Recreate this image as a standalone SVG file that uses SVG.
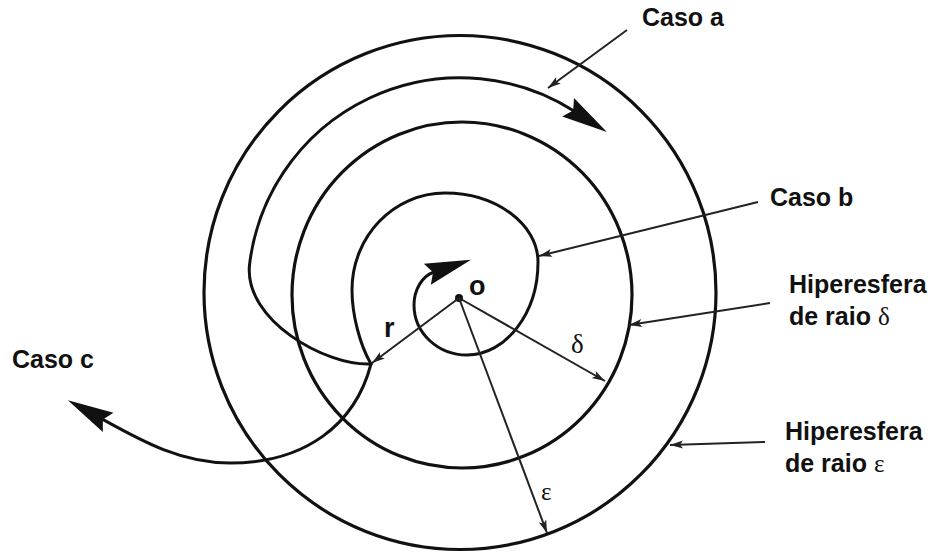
<svg xmlns="http://www.w3.org/2000/svg" width="933" height="553" viewBox="0 0 933 553">
<style>
.ring{fill:none;stroke:#111;stroke-width:3.2}
.traj{fill:none;stroke:#111;stroke-width:3;stroke-linecap:round}
.ptr{fill:none;stroke:#222;stroke-width:2}
.lbl{font-family:"Liberation Sans",Arial,sans-serif;font-weight:bold;font-size:25px;fill:#111}
.greek{font-family:"Liberation Serif","Times New Roman",serif;font-weight:normal;fill:#111}
.sym{font-family:"Liberation Sans",Arial,sans-serif;font-weight:bold;font-size:27px;fill:#111}
</style>
<defs>
<marker id="big" markerUnits="userSpaceOnUse" markerWidth="50" markerHeight="26" refX="7" refY="11" orient="auto" overflow="visible">
<path d="M0,0 L46,11 L0,22 L6,11 Z" fill="#111"/>
</marker>
<marker id="small" markerUnits="userSpaceOnUse" markerWidth="14" markerHeight="10" refX="13" refY="4" orient="auto" overflow="visible">
<path d="M0,0 L13,4 L0,8 L3,4 Z" fill="#222"/>
</marker>
</defs>
<rect width="933" height="553" fill="#fff"/>

<g id="hiperesfera-epsilon"><ellipse class="ring" cx="460" cy="292.5" rx="256" ry="257"/></g>
<g id="hiperesfera-delta"><ellipse class="ring" cx="462" cy="295" rx="170" ry="173"/></g>
<g id="origem"><circle cx="459" cy="298" r="4" fill="#111"/><text class="sym" x="469" y="295">o</text></g>

<g id="connectors">
<path id="caso-a-traj" class="traj" d="M371,364 C325,366 244,320 249.5,265 A212,212 0 0 1 574,111" marker-end="url(#big)"/>
<path id="caso-b-traj" class="traj" d="M371,364 C360,345 352,315 352,290 C352,236 394,193 445,193 C496,193 538,224 538,262 C538,313 506,355 467,355 C438,355 414,333 414,305 C414,290 422,276 434,272" marker-end="url(#big)"/>
<path id="caso-c-traj" class="traj" d="M371,364 C355,425 305,463 230,463 C180,463 140,440 102,419" marker-end="url(#big)"/>
<line class="ptr" x1="459" y1="298" x2="372" y2="363" marker-end="url(#small)"/>
<line class="ptr" x1="459" y1="298" x2="605" y2="381" marker-end="url(#small)"/>
<line class="ptr" x1="459" y1="298" x2="547" y2="533" marker-end="url(#small)"/>
<line class="ptr" x1="627" y1="30" x2="548" y2="88" marker-end="url(#small)"/>
<line class="ptr" x1="758" y1="202" x2="539" y2="256" marker-end="url(#small)"/>
<line class="ptr" x1="770" y1="303" x2="629" y2="325" marker-end="url(#small)"/>
<line class="ptr" x1="765" y1="442" x2="670" y2="445" marker-end="url(#small)"/>
</g>

<g id="label-r"><text class="sym" x="384" y="337">r</text></g>
<g id="label-delta"><text class="greek" font-size="27" x="571" y="353">δ</text></g>
<g id="label-epsilon"><text class="greek" font-size="25" x="541" y="500">ε</text></g>
<g id="label-caso-a"><text class="lbl" x="642" y="26">Caso a</text></g>
<g id="label-caso-b"><text class="lbl" x="770" y="206">Caso b</text></g>
<g id="label-caso-c"><text class="lbl" x="12" y="368">Caso c</text></g>
<g id="label-hip-delta"><text class="lbl" x="789" y="293">Hiperesfera</text><text class="lbl" x="789" y="325">de raio <tspan class="greek">δ</tspan></text></g>
<g id="label-hip-epsilon"><text class="lbl" x="785" y="440">Hiperesfera</text><text class="lbl" x="785" y="472">de raio <tspan class="greek">ε</tspan></text></g>
</svg>
